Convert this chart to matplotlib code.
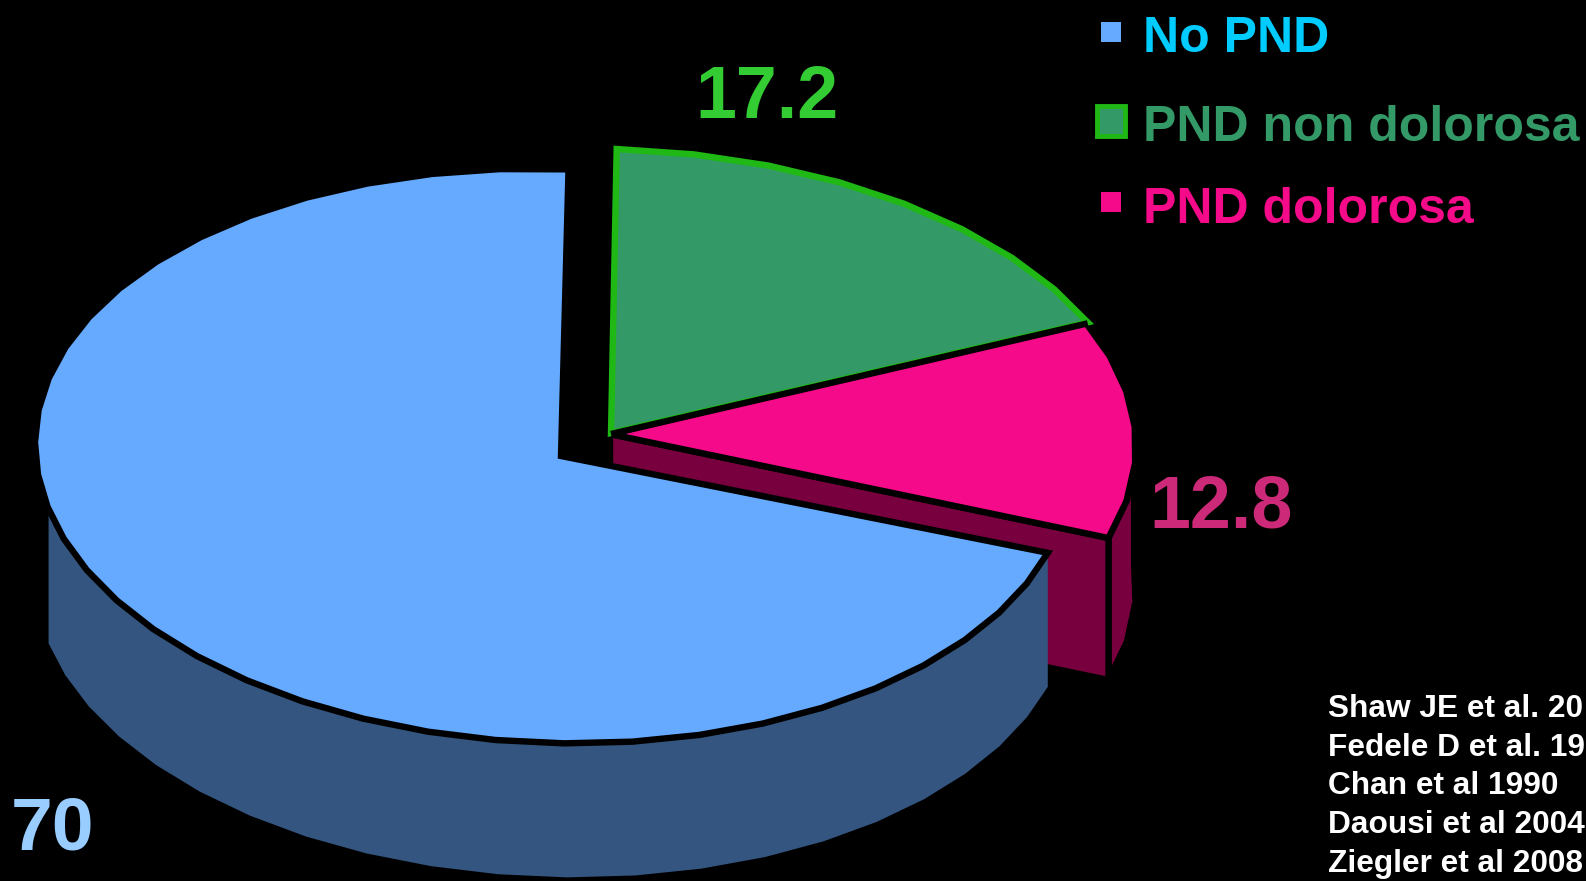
import numpy as np
import matplotlib.pyplot as plt
from matplotlib.patches import Rectangle

categories = ['No PND', 'PND non dolorosa', 'PND dolorosa']
values = [70, 17.2, 12.8]
value_labels = ['70', '17.2', '12.8']
references = ['Shaw JE et al. 20', 'Fedele D et al. 19', 'Chan et al 1990',
              'Daousi et al 2004', 'Ziegler et al 2008']

plt.rcParams['font.family'] = ['Liberation Sans', 'DejaVu Sans']
plt.rcParams['font.weight'] = 'bold'

#pie geometry, in pixels of the picture
TILT_X, TILT_Y = 0.02, 0.03
EDGE = 4.6


def rim(c, r, a0, a1, drop=0, full_warp=False):
    #coarse steps, the original rim is a rough polyline
    n = max(2, int(abs(a1 - a0) / 7) + 1)
    a = np.linspace(a0, a1, n)
    #small warp, the original has some perspective in it
    w = 2.4 * np.sin(np.radians(2 * a))
    if not full_warp:
        w = np.clip(w, 0, None)
    t = np.radians(a - w)
    x = r[0] * np.cos(t) + TILT_X * r[1] * np.sin(t)
    y = -r[1] * np.sin(t) + TILT_Y * r[0] * np.cos(t)
    return c[0] + x, c[1] + y + drop


def top(apex, c, r, a0, a1, full_warp=False):
    x, y = rim(c, r, a0, a1, 0, full_warp)
    return np.r_[apex[0], x], np.r_[apex[1], y]


def side(c, r, a0, a1, depth, full_warp=False):
    x, y = rim(c, r, a0, a1, 0, full_warp)
    xb, yb = rim(c, r, a0, a1, depth, full_warp)
    return np.r_[x, xb[::-1]], np.r_[y, yb[::-1]]


#angles follow the values: blue starts at 12 o'clock and turns left
spans = np.array(values) * 3.6
blue_a = (90, 90 + spans[0])
green_a = (90 - spans[1], 90)
pink_a = (90 - spans[1] - spans[2], 90 - spans[1])

fig = plt.figure(figsize=(15.86, 8.81), dpi=100, facecolor='black')
ax = fig.add_axes([0, 0, 1, 1])
ax.set_xlim(0, 1586)
ax.set_ylim(881, 0)
ax.axis('off')

#pink slice
pc, pr, pd = (610, 434), (526, 288), 142
xe, ye = rim(pc, pr, pink_a[0], pink_a[0])
ax.fill(*side(pc, pr, pink_a[0], 6, pd), color='#78003e', ec='black', lw=EDGE)
ax.fill([pc[0], xe[0], xe[0], pc[0]], [pc[1], ye[0], ye[0] + pd, pc[1] + pd],
        color='#78003e', ec='black', lw=EDGE)
ax.fill(*top(pc, pc, pr, pink_a[0], pink_a[1]), fc='#f50a8a', ec='black', lw=EDGE, joinstyle='miter')

#green slice
gc, gr = (611, 433), (528, 284)
ax.fill(*top(gc, gc, gr, green_a[0], green_a[1]), fc='#339966', ec='#1fb814', lw=EDGE, joinstyle='miter')
xg, yg = rim(gc, gr, green_a[0], green_a[0])
ax.plot([gc[0], xg[0]], [gc[1] + 1, yg[0] + 1], color='black', lw=EDGE, solid_capstyle='butt')

#blue slice, the rim sits a bit left of the apex, one degree more so the cut leans right
ba, bc, br, bd = (561, 456), (553, 456), (518, 287), 134
ax.fill(*side(bc, br, 195, blue_a[1], bd, True), fc='#33557f', ec='none')
ax.fill(*top(ba, bc, br, blue_a[0] - 1, blue_a[1], True), fc='#66aaff', ec='black', lw=EDGE, joinstyle='miter')

#value labels
ax.text(695, 118, value_labels[1], color='#33cc33', fontsize=53, va='baseline')
ax.text(1149, 528, value_labels[2], color='#cc2a78', fontsize=53, va='baseline')
ax.text(11, 849, value_labels[0], color='#99ccff', fontsize=54, va='baseline')

#legend
ax.add_patch(Rectangle((1101, 22), 20, 20, fc='#66aaff', ec='none'))
ax.add_patch(Rectangle((1097, 106), 28, 30, fc='#339966', ec='#1fb814', lw=3.5))
ax.add_patch(Rectangle((1101, 192), 20, 20, fc='#f50a8a', ec='none'))
ax.text(1143, 52, categories[0], color='#00ccff', fontsize=36, va='baseline')
ax.text(1143, 141, categories[1], color='#339966', fontsize=36, va='baseline')
ax.text(1143, 223, categories[2], color='#f50a8a', fontsize=36, va='baseline')

#references
for i, ref in enumerate(references):
    ax.text(1328, 717 + i * 38.7, ref, color='white', fontsize=22.8, va='baseline')

fig.savefig('out.png', dpi=100, facecolor='black')
